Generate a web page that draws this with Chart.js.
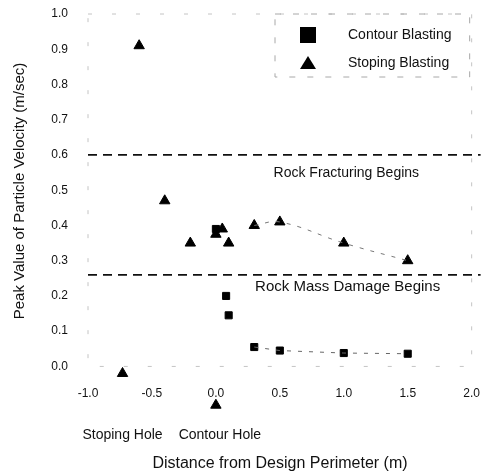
<!DOCTYPE html>
<html>
<head>
<meta charset="utf-8">
<script src="https://cdn.jsdelivr.net/npm/chart.js@4"></script>
<style>
  html, body { margin: 0; padding: 0; background: #fff; }
  #wrap { width: 481px; height: 475px; }
</style>
</head>
<body>
<div id="wrap"><canvas id="ppv"></canvas></div>
<script>
// contour blasting measurements
const contourX = [0.0, 0.08, 0.1, 0.3, 0.5, 1.0, 1.5];
const contourY = [0.39, 0.20, 0.145, 0.055, 0.045, 0.038, 0.036];

// stoping blasting measurements
const stopingX = [-0.6, -0.4, -0.2, 0.0, 0.05, 0.1, 0.3, 0.5, 1.0, 1.5];
const stopingY = [0.91, 0.47, 0.35, 0.375, 0.39, 0.35, 0.40, 0.41, 0.35, 0.30];

// hole locations shown under the axis
const holeX = [-0.73, 0.0];
const holeY = [-0.02, -0.11];
const holeLabels = ['Stoping Hole', 'Contour Hole'];

// damage thresholds
const thresholdY = [0.60, 0.26];
const thresholdLabels = ['Rock Fracturing Begins', 'Rock Mass Damage Begins'];

// tick values
const xTicks = [-1.0, -0.5, 0.0, 0.5, 1.0, 1.5, 2.0];
const yTicks = [0.0, 0.1, 0.2, 0.3, 0.4, 0.5, 0.6, 0.7, 0.8, 0.9, 1.0];

const toPoints = (xs, ys) => xs.map((x, i) => ({ x, y: ys[i] }));

const FONT = 'Arial, "Liberation Sans", Helvetica, sans-serif';

const thresholdSets = thresholdY.map(v => ({
    label: 'threshold',
    data: [{ x: -1.0, y: v }, { x: 2.07, y: v }],
    showLine: true,
    borderColor: '#111',
    borderWidth: 1.8,
    borderDash: [9, 6],
    pointRadius: 0,
    clip: false
}));

const decor = {
    id: 'decor',
    beforeDatasetsDraw(chart) {
        const { ctx, scales: { x, y } } = chart;
        // faint plot frame
        ctx.save();
        ctx.strokeStyle = '#c4c4c4';
        ctx.lineWidth = 1;
        ctx.setLineDash([4, 20]);
        ctx.strokeRect(x.getPixelForValue(-1), y.getPixelForValue(1),
            x.getPixelForValue(2) - x.getPixelForValue(-1),
            y.getPixelForValue(0) - y.getPixelForValue(1));
        ctx.restore();
    },
    afterDatasetsDraw(chart) {
        const { ctx, chartArea: area, scales: { x, y } } = chart;
        ctx.save();
        ctx.fillStyle = '#111';
        ctx.textAlign = 'center';
        ctx.textBaseline = 'middle';

        // threshold captions
        ctx.font = '14px ' + FONT;
        ctx.fillText(thresholdLabels[0], x.getPixelForValue(1.02), y.getPixelForValue(thresholdY[0]) + 18);
        ctx.font = '15px ' + FONT;
        ctx.fillText(thresholdLabels[1], x.getPixelForValue(1.03), y.getPixelForValue(thresholdY[1]) + 12);

        // hole captions
        ctx.font = '14px ' + FONT;
        ctx.fillText(holeLabels[0], x.getPixelForValue(holeX[0]), 435);
        ctx.fillText(holeLabels[1], x.getPixelForValue(holeX[1]) + 4, 435);

        // axis titles
        ctx.font = '16px ' + FONT;
        ctx.fillText('Distance from Design Perimeter (m)', 280, 464);
        ctx.save();
        ctx.translate(20, 191);
        ctx.rotate(-Math.PI / 2);
        ctx.font = '15px ' + FONT;
        ctx.fillText('Peak Value of Particle Velocity (m/sec)', 0, 0);
        ctx.restore();

        // legend
        const lx = 275, ly = area.top, lw = area.right - 2 - lx, lh = 63;
        ctx.strokeStyle = '#a8a8a8';
        ctx.lineWidth = 1;
        ctx.setLineDash([6, 12]);
        ctx.strokeRect(lx, ly, lw, lh);
        ctx.setLineDash([]);
        ctx.fillStyle = '#000';
        ctx.fillRect(lx + 25, ly + 13, 16, 16);
        ctx.beginPath();
        ctx.moveTo(lx + 33, ly + 42);
        ctx.lineTo(lx + 41, ly + 55);
        ctx.lineTo(lx + 25, ly + 55);
        ctx.closePath();
        ctx.fill();
        ctx.fillStyle = '#111';
        ctx.textAlign = 'left';
        ctx.font = '14px ' + FONT;
        ctx.fillText('Contour Blasting', lx + 73, ly + 21);
        ctx.fillText('Stoping Blasting', lx + 73, ly + 49);
        ctx.restore();
    }
};

new Chart(document.getElementById('ppv'), {
    type: 'scatter',
    data: {
        datasets: [
            ...thresholdSets,
            {
                label: 'stoping trend',
                data: toPoints(stopingX.slice(6), stopingY.slice(6)),
                showLine: true,
                tension: 0.4,
                borderColor: '#777',
                borderWidth: 1,
                borderDash: [4, 7],
                pointRadius: 0
            },
            {
                label: 'contour trend',
                data: toPoints(contourX.slice(3), contourY.slice(3)),
                showLine: true,
                borderColor: '#666',
                borderWidth: 1,
                borderDash: [4, 7],
                pointRadius: 0
            },
            {
                label: 'Contour Blasting',
                data: toPoints(contourX, contourY),
                pointStyle: 'rect',
                pointRadius: 5,
                backgroundColor: '#000',
                borderColor: '#000',
                borderWidth: 1
            },
            {
                label: 'Stoping Blasting',
                data: toPoints(stopingX, stopingY),
                pointStyle: 'triangle',
                pointRadius: 6,
                backgroundColor: '#000',
                borderColor: '#000',
                borderWidth: 1
            },
            {
                label: 'holes',
                data: toPoints(holeX, holeY),
                pointStyle: 'triangle',
                pointRadius: 6,
                backgroundColor: '#000',
                borderColor: '#000',
                borderWidth: 1,
                clip: false
            }
        ]
    },
    options: {
        responsive: true,
        maintainAspectRatio: false,
        animation: false,
        layout: { padding: { top: 14, right: 9, left: 0, bottom: 61 } },
        plugins: {
            legend: { display: false },
            tooltip: { enabled: false }
        },
        scales: {
            x: {
                type: 'linear',
                position: { y: -0.055 },
                min: -1.0,
                max: 2.0,
                grid: { display: false, drawTicks: false },
                border: { display: false },
                afterBuildTicks: s => { s.ticks = xTicks.map(v => ({ value: v })); },
                ticks: {
                    padding: 1,
                    color: '#111',
                    font: { family: FONT, size: 12 },
                    callback: v => v.toFixed(1)
                }
            },
            y: {
                type: 'linear',
                min: -0.135,
                max: 1.0,
                grid: { display: false, tickLength: 20 },
                border: { display: false },
                afterBuildTicks: s => { s.ticks = yTicks.map(v => ({ value: v })); },
                afterFit: s => { s.width = 88; },
                ticks: {
                    padding: 0,
                    color: '#111',
                    font: { family: FONT, size: 12 },
                    callback: v => v.toFixed(1)
                }
            }
        }
    },
    plugins: [decor]
});
</script>
</body>
</html>
